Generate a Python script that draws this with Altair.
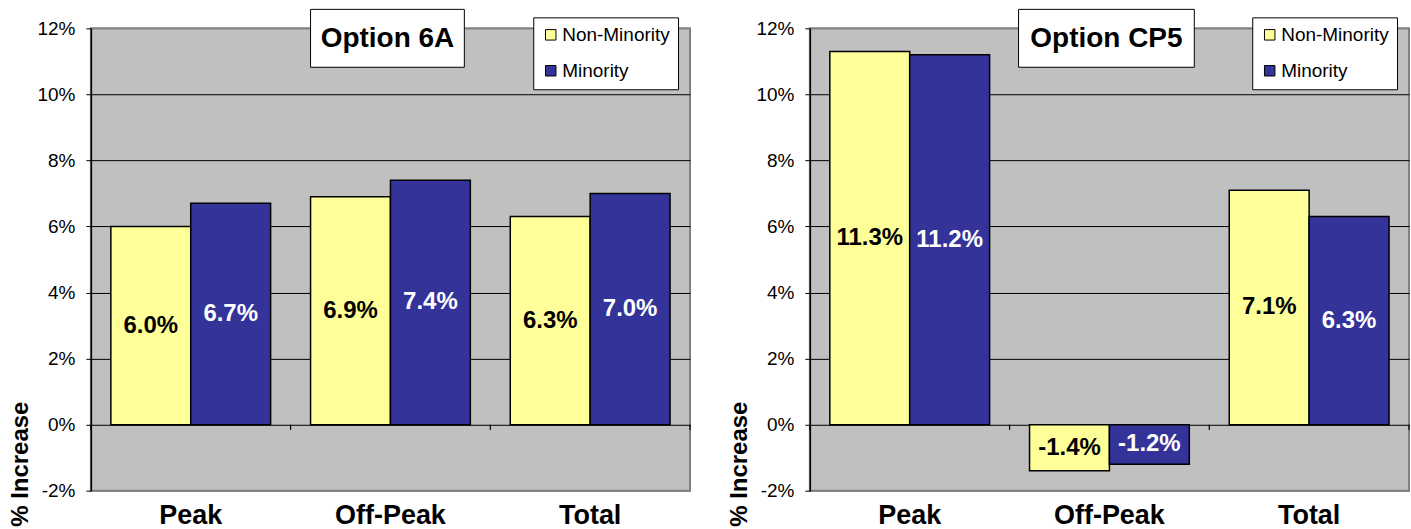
import altair as alt
import pandas as pd

# ---- data ----
categories = ["Peak", "Off-Peak", "Total"]
groups = ["Non-Minority", "Minority"]
opt6a_non = [6.0, 6.9, 6.3]
opt6a_min = [6.7, 7.4, 7.0]
cp5_non = [11.3, -1.4, 7.1]
cp5_min = [11.2, -1.2, 6.3]
titles = ["Option 6A", "Option CP5"]
y_ticks = [-2, 0, 2, 4, 6, 8, 10, 12]
bar_colors = ["#FFFF99", "#333399"]

FONT = "Liberation Sans"


def make_df(non, mino):
    rows = []
    for c, a, b in zip(categories, non, mino):
        rows.append({"cat": c, "group": groups[0], "value": a, "label": f"{a:.1f}%"})
        rows.append({"cat": c, "group": groups[1], "value": b, "label": f"{b:.1f}%"})
    return pd.DataFrame(rows)


def y_axis():
    return alt.Axis(
        values=y_ticks,
        labelExpr="datum.value + '%'",
        title="% Increase",
        titleFont=FONT, titleFontSize=24, titleFontWeight="bold", titleColor="black",
        titleAngle=270, titleAlign="center", titleBaseline="alphabetic",
        titleX=-63, titleY=436,
        labelFont=FONT, labelFontSize=19, labelColor="black", labelPadding=11,
        tickColor="black", tickSize=5, tickWidth=1,
        domainColor="black", domainWidth=1.5,
        grid=True,
        gridColor={"condition": {"test": "datum.value >= 12 || datum.value <= -2", "value": "#808080"},
                   "value": "black"},
        gridWidth=1,
    )


def panel(non, mino, title, box_x0, box_x1):
    df = make_df(non, mino)
    xscale = alt.Scale(paddingInner=0, paddingOuter=0)
    xoscale = alt.Scale(paddingInner=0, paddingOuter=0.25)
    yscale = alt.Scale(domain=[-2, 12], nice=False, zero=False)

    bars = alt.Chart(df).mark_bar(stroke="black", strokeWidth=1.5).encode(
        x=alt.X("cat:N", sort=categories, scale=xscale,
                axis=alt.Axis(title=None, labelAngle=0, ticks=False, domain=False,
                              labelFont=FONT, labelFontSize=27, labelFontWeight="bold",
                              labelColor="black", labelPadding=12, labelBaseline="top")),
        xOffset=alt.XOffset("group:N", sort=groups, scale=xoscale),
        y=alt.Y("value:Q", scale=yscale, axis=y_axis()),
        color=alt.Color("group:N", sort=groups,
                        scale=alt.Scale(domain=groups, range=bar_colors),
                        legend=alt.Legend(orient="none", legendX=443, legendY=-11, title=None,
                                          fillColor="white", strokeColor="black", padding=8,
                                          symbolType="square", symbolSize=110,
                                          symbolStrokeColor="black", symbolStrokeWidth=1,
                                          symbolOpacity=1,
                                          labelFont=FONT, labelFontSize=19, labelColor="black",
                                          labelOffset=2, rowPadding=16)),
    )

    text = alt.Chart(df).transform_calculate(mid="datum.value / 2").mark_text(
        font=FONT, fontSize=24, fontWeight="bold", baseline="middle", align="center"
    ).encode(
        x=alt.X("cat:N", sort=categories, scale=xscale, axis=None),
        xOffset=alt.XOffset("group:N", sort=groups, scale=xoscale),
        y=alt.Y("mid:Q", scale=yscale, axis=y_axis()),
        text="label:N",
        color=alt.condition(alt.datum.group == groups[1], alt.value("white"), alt.value("black")),
    )

    bnd = pd.DataFrame({"b": list(range(len(categories) + 1))})
    ticks = alt.Chart(bnd).mark_rule(color="black", strokeWidth=1.2).encode(
        x=alt.X("b:Q", scale=alt.Scale(domain=[0, len(categories)], nice=False, zero=False), axis=None),
        y=alt.datum(0),
        y2=alt.datum(-0.16),
    )

    tdf = pd.DataFrame({"t": [title]})
    box = alt.Chart(tdf).mark_rect(fill="white", stroke="black", strokeWidth=1).encode(
        x=alt.value(box_x0), x2=alt.value(box_x1), y=alt.value(-19), y2=alt.value(39)
    )
    ttxt = alt.Chart(tdf).mark_text(
        font=FONT, fontSize=28, fontWeight="bold", color="black", baseline="middle", align="center"
    ).encode(x=alt.value((box_x0 + box_x1) / 2), y=alt.value(11), text="t:N")

    return alt.layer(bars, text, ticks, box, ttxt).resolve_scale(x="independent").properties(
        width=600, height=463
    )


left = panel(opt6a_non, opt6a_min, titles[0], 220, 374)
right = panel(cp5_non, cp5_min, titles[1], 209, 385)

chart = alt.hconcat(left, right, spacing=35).resolve_scale(
    color="independent"
).resolve_legend(color="independent").properties(
    padding={"left": 8, "top": 7, "right": 0, "bottom": 0},
    background="white",
).configure_view(
    fill="#C0C0C0", stroke="#808080", strokeWidth=2
)

chart.save("out.html", embed_options={"renderer": "svg", "actions": False})
